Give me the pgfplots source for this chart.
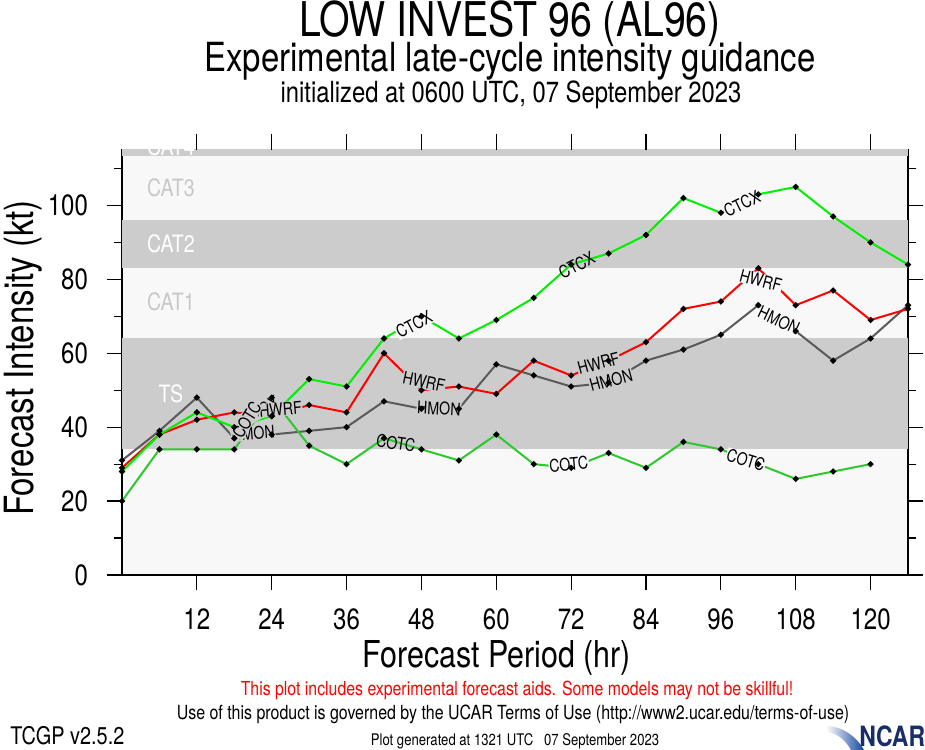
\documentclass[border=0pt]{standalone}
\usepackage{fontspec}
\setmainfont{TeX Gyre Heros}[FakeStretch=0.82]
\usepackage{pgfplots}
\usepackage{pgfplotstable}
\pgfplotsset{compat=1.18}

\definecolor{bandlight}{RGB}{248,248,248}
\definecolor{bandgray}{RGB}{204,204,204}
\definecolor{catlight}{RGB}{200,200,200}
\definecolor{ctcx}{RGB}{0,240,0}
\definecolor{cotc}{RGB}{45,200,45}
\definecolor{hwrf}{RGB}{255,0,0}
\definecolor{hmon}{RGB}{90,90,90}
\definecolor{ncarblue}{RGB}{25,45,105}

\newcommand\fs[1]{\fontsize{#1}{#1}\selectfont}
\tikzset{lbl/.style={font=\fs{13pt}, inner sep=0.5pt, text=black}}

% forecast hour, intensity (kt) per model
\pgfplotstableread{
t   ctcx hwrf hmon cotc
0   28   29   31   20
6   38   38   39   34
12  44   42   48   34
18  40   44   37   34
24  43   43   38   48
30  53   46   39   35
36  51   44   40   30
42  64   60   47   37
48  70   50   45   34
54  64   51   45   31
60  69   49   57   38
66  75   58   54   30
72  84   54   51   29
78  87   58   52   33
84  92   63   58   29
90  102  72   61   36
96  98   74   65   34
102 103  83   73   30
108 105  73   66   26
114 97   77   58   28
120 90   69   64   30
126 84   72   73   nan
}\guidance

\begin{document}
\begin{tikzpicture}[x=0.75pt,y=0.75pt]
\useasboundingbox (0,0) rectangle (925,750);
\begin{axis}[
    at={(91.5pt,131.25pt)}, anchor=south west,
    scale only axis, width=589.5pt, height=318.75pt,
    xmin=0, xmax=126, ymin=0, ymax=115,
    axis background/.style={fill=bandlight},
    axis line style={black, line width=1.1pt},
    tick align=outside,
    major tick length=11.5pt, minor tick length=6pt,
    tick style={black, line width=0.9pt},
    xtick={12,24,...,120},
    ytick={0,20,...,100},
    minor ytick={10,30,...,110},
    ticklabel style={font=\fs{22pt}},
    xticklabel style={yshift=-10pt},
    yticklabel style={xshift=-10.5pt},
    /pgf/number format/assume math mode=true,
    unbounded coords=jump,
    every axis plot/.append style={line width=1.5pt},
]
% intensity category bands
\fill[bandgray] (axis cs:0,34) rectangle (axis cs:126,64);
\fill[bandgray] (axis cs:0,83) rectangle (axis cs:126,96);
\fill[bandgray] (axis cs:0,113.3) rectangle (axis cs:126,130);
\node[font=\fs{17.9pt}, text=white] at (axis cs:7.85,49) {TS};
\node[font=\fs{17.9pt}, text=catlight] at (axis cs:7.85,73.8) {CAT1};
\node[font=\fs{17.9pt}, text=white] at (axis cs:7.85,89.7) {CAT2};
\node[font=\fs{17.9pt}, text=catlight] at (axis cs:7.85,104.9) {CAT3};
\node[font=\fs{17.9pt}, text=white, anchor=base] at (axis cs:7.85,113.5) {CAT4};

% model lines
\addplot[hmon, no marks] table[x=t, y=hmon] {\guidance};
\addplot[hwrf, no marks] table[x=t, y=hwrf] {\guidance};
\addplot[ctcx, no marks] table[x=t, y=ctcx] {\guidance};
\addplot[cotc, no marks] table[x=t, y=cotc] {\guidance};

% line labels
\node[lbl, fill=bandlight, rotate=28] at (axis cs:46.8,67.8) {CTCX};
\node[lbl, rotate=28] at (axis cs:72.9,83.8) {CTCX};
\node[lbl, fill=bandlight, rotate=26] at (axis cs:99.4,100.5) {CTCX};
\node[lbl, fill=bandgray, rotate=30] at (axis cs:22.3,44.6) {CTCX};
\node[lbl, fill=bandgray, rotate=5] at (axis cs:25.4,44.9) {HWRF};
\node[lbl, fill=bandgray, rotate=-12] at (axis cs:48.4,52.2) {HWRF};
\node[lbl, fill=bandgray, rotate=15] at (axis cs:76.4,57.3) {HWRF};
\node[lbl, fill=bandlight, rotate=-15] at (axis cs:102.4,79.7) {HWRF};
\node[lbl, fill=bandgray, rotate=4] at (axis cs:21.0,38.4) {HMON};
\node[lbl, fill=bandgray, rotate=-3] at (axis cs:50.8,45.1) {HMON};
\node[lbl, fill=bandgray, rotate=15] at (axis cs:78.4,52.7) {HMON};
\node[lbl, fill=bandlight, rotate=-25] at (axis cs:105.3,68.9) {HMON};
\node[lbl, fill=bandgray, rotate=58] at (axis cs:20.0,42.0) {COTC};
\node[lbl, rotate=-8] at (axis cs:43.9,35.7) {COTC};
\node[lbl, fill=bandlight, rotate=5] at (axis cs:71.6,30.0) {COTC};
\node[lbl, fill=bandlight, rotate=-17] at (axis cs:100.0,31.1) {COTC};

% forecast points
\addplot[only marks, mark=*, mark size=1.4pt, black] table[x=t, y=hmon] {\guidance};
\addplot[only marks, mark=*, mark size=1.4pt, black] table[x=t, y=hwrf] {\guidance};
\addplot[only marks, mark=*, mark size=1.4pt, black] table[x=t, y=ctcx] {\guidance};
\addplot[only marks, mark=*, mark size=1.4pt, black] table[x=t, y=cotc] {\guidance};
\end{axis}

% ticks along the top edge (axis spans 786 px for 126 h)
\foreach \h in {12,24,...,120}
  \draw[black, line width=0.9pt] ({122+\h*6.2381},600) -- ({122+\h*6.2381},615.5);

% titles and labels
\node[anchor=base, font=\fs{35.9pt}] at (510,713) {LOW INVEST 96 (AL96)};
\node[anchor=base, font=\fs{30.1pt}] at (510,678) {Experimental late-cycle intensity guidance};
\node[anchor=base, font=\fs{21.8pt}] at (511,647) {initialized at 0600 UTC, 07 September 2023};
\node[anchor=base, font=\fs{27.8pt}] at (497,82) {Forecast Period (hr)};
\node[anchor=base, rotate=90, font=\fs{30.2pt}] at (33,392) {Forecast Intensity (kt)};
\node[anchor=base, font=\fs{14.5pt}, text=red] at (517,54) {This plot includes experimental forecast aids. Some models may not be skillful!};
\node[anchor=base, font=\fs{14.6pt}] at (513,31) {Use of this product is governed by the UCAR Terms of Use (http://www2.ucar.edu/terms-of-use)};
\node[anchor=base west, font=\fs{18.2pt}, inner sep=0pt] at (10,6) {TCGP v2.5.2};
\node[anchor=base, font=\fs{12pt}] at (515,4) {Plot generated at 1321 UTC\ \ \ 07 September 2023};

% NCAR logo
\shade[left color=white, right color={rgb,255:red,20;green,70;blue,160}]
  (826,24) .. controls (842,24) and (856,14) .. (864,0) -- (851,0)
  .. controls (846,9) and (838,17) .. (826,18) -- cycle;
\node[anchor=base west, inner sep=0pt, font=\bfseries\fs{21pt}, text=ncarblue] at (859,3) {NCAR};
\end{tikzpicture}
\end{document}
